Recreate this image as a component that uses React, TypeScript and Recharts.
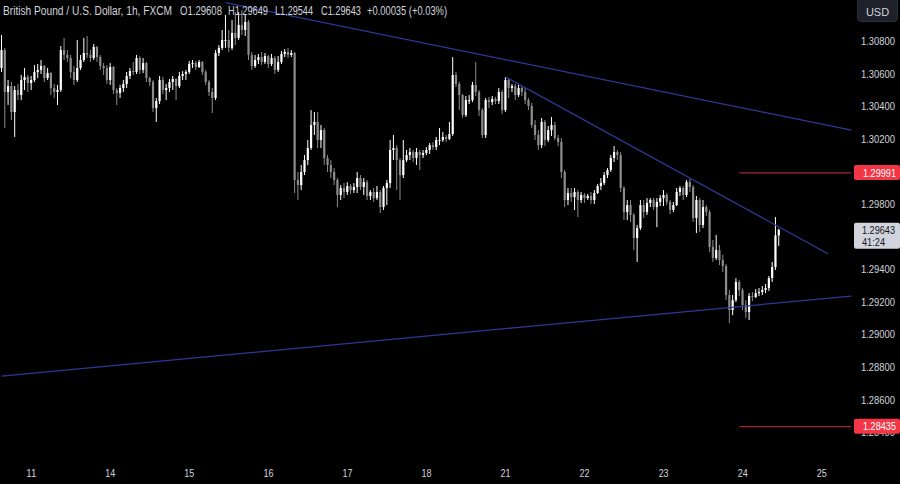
import React from 'react';
import { ComposedChart, Bar, XAxis, YAxis, ReferenceLine } from 'recharts';

const FONT = "'Liberation Sans', Arial, sans-serif";

const firstOpen = 1.30635;

const closes = [
  1.30745,1.30488,1.30524,1.30365,1.30500,1.30469,1.30561,1.30580,1.30543,1.30561,
  1.30610,1.30623,1.30647,1.30573,1.30604,1.30512,1.30488,1.30500,1.30745,1.30715,
  1.30696,1.30610,1.30561,1.30635,1.30684,1.30727,1.30715,1.30696,1.30764,1.30702,
  1.30647,1.30635,1.30561,1.30641,1.30500,1.30481,1.30512,1.30537,1.30586,1.30616,
  1.30610,1.30696,1.30623,1.30665,1.30573,1.30549,1.30389,1.30432,1.30561,1.30500,
  1.30512,1.30549,1.30567,1.30524,1.30586,1.30598,1.30610,1.30659,1.30665,1.30641,
  1.30672,1.30610,1.30549,1.30488,1.30451,1.30727,1.30758,1.30807,1.30807,1.30758,
  1.30850,1.30819,1.30899,1.30868,1.30917,1.30715,1.30647,1.30684,1.30702,1.30672,
  1.30708,1.30659,1.30696,1.30623,1.30672,1.30721,1.30733,1.30715,1.30727,1.29948,
  1.29917,1.29997,1.30070,1.30144,1.30285,1.30304,1.30193,1.30254,1.30083,1.30040,
  1.29997,1.29948,1.29856,1.29899,1.29874,1.29911,1.29886,1.29905,1.29960,1.29905,
  1.29935,1.29850,1.29874,1.29837,1.29874,1.29782,1.29899,1.29929,1.30132,1.30144,
  1.30070,1.29978,1.30070,1.30101,1.30119,1.30083,1.30119,1.30101,1.30113,1.30132,
  1.30162,1.30150,1.30193,1.30193,1.30212,1.30199,1.30230,1.30592,1.30537,1.30469,
  1.30346,1.30438,1.30438,1.30531,1.30488,1.30377,1.30224,1.30438,1.30426,1.30445,
  1.30432,1.30488,1.30377,1.30561,1.30512,1.30524,1.30469,1.30512,1.30488,1.30438,
  1.30402,1.30285,1.30224,1.30162,1.30304,1.30193,1.30254,1.30285,1.30205,1.30181,
  1.29997,1.29825,1.29868,1.29843,1.29874,1.29825,1.29856,1.29837,1.29850,1.29825,
  1.29868,1.29911,1.29929,1.29978,1.30009,1.30083,1.30119,1.30101,1.29899,1.29751,
  1.29794,1.29733,1.29592,1.29653,1.29794,1.29751,1.29807,1.29825,1.29782,1.29813,
  1.29837,1.29856,1.29813,1.29764,1.29794,1.29874,1.29899,1.29856,1.29935,1.29905,
  1.29715,1.29825,1.29672,1.29782,1.29751,1.29537,1.29469,1.29518,1.29457,1.29420,
  1.29242,1.29150,1.29211,1.29322,1.29273,1.29181,1.29138,1.29236,1.29230,1.29254,
  1.29261,1.29273,1.29285,1.29346,1.29414,1.29608,1.29643,
];

const highs = [
  1.30837,1.30758,1.30561,1.30549,1.30524,1.30537,1.30592,1.30635,1.30592,1.30586,
  1.30653,1.30659,1.30684,1.30653,1.30635,1.30610,1.30537,1.30531,1.30770,1.30819,
  1.30745,1.30715,1.30647,1.30807,1.30715,1.30819,1.30831,1.30745,1.30782,1.30770,
  1.30715,1.30665,1.30653,1.30665,1.30647,1.30512,1.30531,1.30561,1.30610,1.30635,
  1.30672,1.30715,1.30708,1.30696,1.30672,1.30580,1.30561,1.30451,1.30586,1.30580,
  1.30537,1.30567,1.30586,1.30573,1.30610,1.30616,1.30623,1.30678,1.30684,1.30678,
  1.30684,1.30678,1.30623,1.30561,1.30512,1.30745,1.30776,1.30868,1.30960,1.30868,
  1.30929,1.30978,1.30978,1.30991,1.30960,1.30929,1.30733,1.30715,1.30721,1.30733,
  1.30727,1.30715,1.30721,1.30708,1.30708,1.30739,1.30751,1.30758,1.30745,1.30733,
  1.29997,1.30040,1.30101,1.30193,1.30377,1.30365,1.30365,1.30285,1.30267,1.30101,
  1.30070,1.30021,1.29960,1.29917,1.29929,1.29935,1.29923,1.29929,1.29997,1.29978,
  1.29960,1.29948,1.29886,1.29899,1.29911,1.29886,1.29911,1.29948,1.30193,1.30224,
  1.30162,1.30083,1.30193,1.30132,1.30144,1.30132,1.30144,1.30132,1.30132,1.30150,
  1.30175,1.30181,1.30212,1.30267,1.30242,1.30224,1.30304,1.30702,1.30610,1.30549,
  1.30475,1.30463,1.30469,1.30549,1.30672,1.30500,1.30389,1.30451,1.30457,1.30463,
  1.30457,1.30512,1.30500,1.30580,1.30573,1.30537,1.30537,1.30531,1.30524,1.30512,
  1.30451,1.30420,1.30316,1.30254,1.30328,1.30316,1.30279,1.30334,1.30304,1.30224,
  1.30205,1.30009,1.29899,1.29899,1.29899,1.29886,1.29874,1.29868,1.29862,1.29874,
  1.29886,1.29923,1.29960,1.29997,1.30021,1.30101,1.30156,1.30132,1.30119,1.29911,
  1.29825,1.29825,1.29745,1.29672,1.29825,1.29825,1.29837,1.29837,1.29837,1.29837,
  1.29856,1.29886,1.29868,1.29825,1.29813,1.29899,1.29911,1.29911,1.29948,1.29954,
  1.29917,1.29850,1.29837,1.29825,1.29794,1.29764,1.29580,1.29610,1.29549,1.29488,
  1.29432,1.29273,1.29242,1.29346,1.29334,1.29285,1.29211,1.29254,1.29261,1.29279,
  1.29285,1.29297,1.29310,1.29359,1.29445,1.29721,1.29649,
];

const lows = [
  1.30610,1.30267,1.30408,1.30316,1.30212,1.30438,1.30438,1.30500,1.30488,1.30500,
  1.30549,1.30573,1.30598,1.30549,1.30561,1.30469,1.30451,1.30408,1.30488,1.30684,
  1.30672,1.30573,1.30531,1.30549,1.30623,1.30672,1.30696,1.30672,1.30684,1.30672,
  1.30623,1.30592,1.30537,1.30531,1.30475,1.30408,1.30451,1.30488,1.30512,1.30567,
  1.30592,1.30598,1.30598,1.30604,1.30549,1.30524,1.30365,1.30304,1.30414,1.30475,
  1.30438,1.30488,1.30500,1.30438,1.30512,1.30561,1.30561,1.30598,1.30635,1.30623,
  1.30635,1.30592,1.30531,1.30463,1.30359,1.30438,1.30708,1.30745,1.30758,1.30733,
  1.30745,1.30776,1.30807,1.30837,1.30831,1.30684,1.30623,1.30635,1.30659,1.30653,
  1.30659,1.30635,1.30647,1.30598,1.30610,1.30659,1.30702,1.30696,1.30702,1.29868,
  1.29825,1.29886,1.29978,1.30040,1.30132,1.30224,1.30144,1.30144,1.30040,1.29997,
  1.29960,1.29917,1.29782,1.29825,1.29837,1.29856,1.29862,1.29868,1.29868,1.29886,
  1.29856,1.29825,1.29825,1.29813,1.29825,1.29745,1.29764,1.29794,1.29899,1.30070,
  1.29886,1.29825,1.29960,1.30058,1.30070,1.30058,1.30040,1.30009,1.30083,1.30101,
  1.30107,1.30132,1.30132,1.30162,1.30181,1.30181,1.30193,1.30218,1.30518,1.30377,
  1.30328,1.30334,1.30414,1.30426,1.30463,1.30340,1.30205,1.30205,1.30389,1.30408,
  1.30414,1.30414,1.30353,1.30365,1.30451,1.30488,1.30438,1.30457,1.30463,1.30414,
  1.30377,1.30267,1.30193,1.30132,1.30144,1.30156,1.30181,1.30218,1.30193,1.30156,
  1.29960,1.29782,1.29794,1.29813,1.29764,1.29721,1.29807,1.29807,1.29825,1.29800,
  1.29800,1.29862,1.29886,1.29917,1.29960,1.29997,1.30058,1.30070,1.29874,1.29702,
  1.29702,1.29690,1.29518,1.29445,1.29641,1.29715,1.29733,1.29782,1.29764,1.29659,
  1.29788,1.29788,1.29794,1.29739,1.29751,1.29788,1.29850,1.29825,1.29843,1.29874,
  1.29690,1.29623,1.29629,1.29653,1.29727,1.29506,1.29445,1.29457,1.29426,1.29383,
  1.29211,1.29070,1.29119,1.29199,1.29236,1.29150,1.29101,1.29089,1.29205,1.29224,
  1.29236,1.29242,1.29254,1.29267,1.29322,1.29396,1.29544,
];

const totalSlots = 259;
const dayStarts = [9, 33, 57, 81, 105, 129, 153, 177, 201, 225, 249];
const dayLabels = ['11', '14', '15', '16', '17', '18', '21', '22', '23', '24', '25'];
const priceTicks = [1.284, 1.286, 1.288, 1.29, 1.292, 1.294, 1.296, 1.298, 1.3, 1.302, 1.304, 1.306, 1.308];
const priceDomain = [1.28261, 1.31052];

// trendlines: [startIndex, startPrice, endIndex, endPrice]
const upperTrend = [68, 1.31036, 258, 1.30254];
const innerTrend = [153, 1.3058, 251, 1.29494];
const supportTrend = [0, 1.28745, 258, 1.29236];
const levels = [1.29991, 1.28435];
const levelStart = 224;
const lastPrice = 1.29643;
const countdown = '41:24';

const headerItems = [
  { text: 'British Pound / U.S. Dollar, 1h, FXCM', left: 3, width: 169 },
  { text: 'O1.29608', left: 180, width: 42 },
  { text: 'H1.29649', left: 228, width: 40 },
  { text: 'L1.29544', left: 275, width: 38 },
  { text: 'C1.29643', left: 321, width: 40 },
  { text: '+0.00035 (+0.03%)', left: 367, width: 80 },
];

const data = Array.from({ length: totalSlots }, (_, i) => {
  if (i >= closes.length) return { i, range: null };
  const open = i === 0 ? firstOpen : closes[i - 1];
  const close = closes[i];
  const high = Math.max(highs[i], open, close);
  const low = Math.min(lows[i], open, close);
  return { i, open, close, high, low, range: [low, high] };
});

const UP = '#ffffff';
const DOWN = '#8c8c8c';
const AXIS_TEXT = '#d1d4dc';

const Candle = (props: any) => {
  const { x, y, width, height, payload } = props;
  if (!payload || payload.high == null) return null;
  const { open, close, high, low } = payload;
  const cx = x + width / 2;
  const span = high - low;
  const toY = (v: number) => y + (span === 0 ? 0 : ((high - v) / span) * height);
  const up = close >= open;
  const color = up ? UP : DOWN;
  const top = toY(Math.max(open, close));
  const bot = toY(Math.min(open, close));
  const bw = 2.2;
  return (
    <g>
      <line x1={cx} x2={cx} y1={y} y2={y + height} stroke={color} strokeWidth={1} />
      <rect x={cx - bw / 2} y={top} width={bw} height={Math.max(1, bot - top)} fill={color} />
    </g>
  );
};

const YTick = (props: any) => {
  const { x, y, payload } = props;
  return (
    <text x={x} y={y} dy="0.35em" fill={AXIS_TEXT} fontSize={11} fontFamily={FONT} textLength={34} lengthAdjust="spacingAndGlyphs">
      {Number(payload.value).toFixed(5)}
    </text>
  );
};

const XTick = (props: any) => {
  const { x, y, payload } = props;
  const label = dayLabels[dayStarts.indexOf(payload.value)] ?? '';
  return (
    <text x={x} y={y} dy="0.71em" textAnchor="middle" fill={AXIS_TEXT} fontSize={11} fontFamily={FONT} textLength={10} lengthAdjust="spacingAndGlyphs">
      {label}
    </text>
  );
};

const PriceTag = (props: any) => {
  const { viewBox, text, bg, color, sub } = props;
  if (!viewBox) return null;
  const x0 = viewBox.x + viewBox.width + 1;
  const y = viewBox.y;
  if (sub) {
    return (
      <g>
        <rect x={x0} y={y - 7} width={46} height={26} fill={bg} rx={2} />
        <text x={x0 + 8} y={y} dy="0.35em" fill={color} fontSize={11} fontFamily={FONT} textLength={33} lengthAdjust="spacingAndGlyphs">{text}</text>
        <text x={x0 + 8} y={y + 12} dy="0.35em" fill={color} fontSize={11} fontFamily={FONT} textLength={23} lengthAdjust="spacingAndGlyphs">{sub}</text>
      </g>
    );
  }
  return (
    <g>
      <rect x={x0} y={y - 8} width={46} height={15} fill={bg} rx={2} />
      <text x={x0 + 9} y={y} dy="0.35em" fill={color} fontSize={11} fontFamily={FONT} textLength={33} lengthAdjust="spacingAndGlyphs">{text}</text>
    </g>
  );
};

const TREND = '#2f3896';
const LEVEL = '#a3262d';
const MARGIN = { top: 0, right: 0, bottom: 0, left: 0 };

export default function App() {
  return (
    <div style={{ position: 'absolute', left: 0, top: 0, width: 900, height: 484, background: '#000', overflow: 'hidden', fontFamily: FONT }}>
      <ComposedChart width={900} height={484} data={data} margin={MARGIN} barCategoryGap={0}>
        <XAxis
          dataKey="i"
          type="category"
          ticks={dayStarts}
          interval={0}
          axisLine={false}
          tickLine={false}
          height={29}
          tickMargin={8}
          tick={<XTick />}
        />
        <YAxis
          orientation="right"
          type="number"
          width={47}
          domain={priceDomain}
          allowDataOverflow
          ticks={priceTicks}
          interval={0}
          axisLine={false}
          tickLine={false}
          tickMargin={2}
          tick={<YTick />}
        />
        <ReferenceLine
          segment={[{ x: supportTrend[0], y: supportTrend[1] }, { x: supportTrend[2], y: supportTrend[3] }]}
          stroke={TREND}
          strokeWidth={1.3}
          ifOverflow="visible"
        />
        <ReferenceLine
          segment={[{ x: upperTrend[0], y: upperTrend[1] }, { x: upperTrend[2], y: upperTrend[3] }]}
          stroke={TREND}
          strokeWidth={1.3}
          ifOverflow="visible"
        />
        <ReferenceLine
          segment={[{ x: innerTrend[0], y: innerTrend[1] }, { x: innerTrend[2], y: innerTrend[3] }]}
          stroke={TREND}
          strokeWidth={1.3}
          ifOverflow="visible"
        />
        {levels.map((lv) => (
          <ReferenceLine
            key={'seg' + lv}
            segment={[{ x: levelStart, y: lv }, { x: totalSlots - 1, y: lv }]}
            stroke={LEVEL}
            strokeWidth={1.2}
            ifOverflow="visible"
          />
        ))}
        <Bar dataKey="range" shape={<Candle />} isAnimationActive={false} />
      </ComposedChart>

      <div style={{ position: 'absolute', left: 0, top: 0 }}>
        <ComposedChart width={900} height={484} data={data} margin={MARGIN}>
          <XAxis dataKey="i" type="category" height={29} tick={false} axisLine={false} tickLine={false} />
          <YAxis orientation="right" type="number" width={47} domain={priceDomain} allowDataOverflow tick={false} axisLine={false} tickLine={false} />
          {levels.map((lv) => (
            <ReferenceLine
              key={'tag' + lv}
              y={lv}
              stroke="none"
              strokeOpacity={0}
              ifOverflow="visible"
              label={<PriceTag text={lv.toFixed(5)} bg="#f23645" color="#ffffff" />}
            />
          ))}
          <ReferenceLine
            y={lastPrice}
            stroke="none"
            strokeOpacity={0}
            ifOverflow="visible"
            label={<PriceTag text={lastPrice.toFixed(5)} sub={countdown} bg="#d1d4dc" color="#131722" />}
          />
        </ComposedChart>
      </div>

      <svg width={900} height={24} style={{ position: 'absolute', left: 0, top: 0 }}>
        {headerItems.map((h) => (
          <text key={h.text} x={h.left} y={11} dy="0.35em" fill={AXIS_TEXT} fontSize={12} fontFamily={FONT} textLength={h.width} lengthAdjust="spacingAndGlyphs">
            {h.text}
          </text>
        ))}
      </svg>
      <div style={{ position: 'absolute', left: 857, top: -4, width: 41, height: 26, borderRadius: 4, background: '#1e2129', border: '1px solid #2c3039', boxSizing: 'border-box', color: AXIS_TEXT, fontSize: 11, textAlign: 'center', lineHeight: '30px' }}>
        USD
      </div>
    </div>
  );
}
